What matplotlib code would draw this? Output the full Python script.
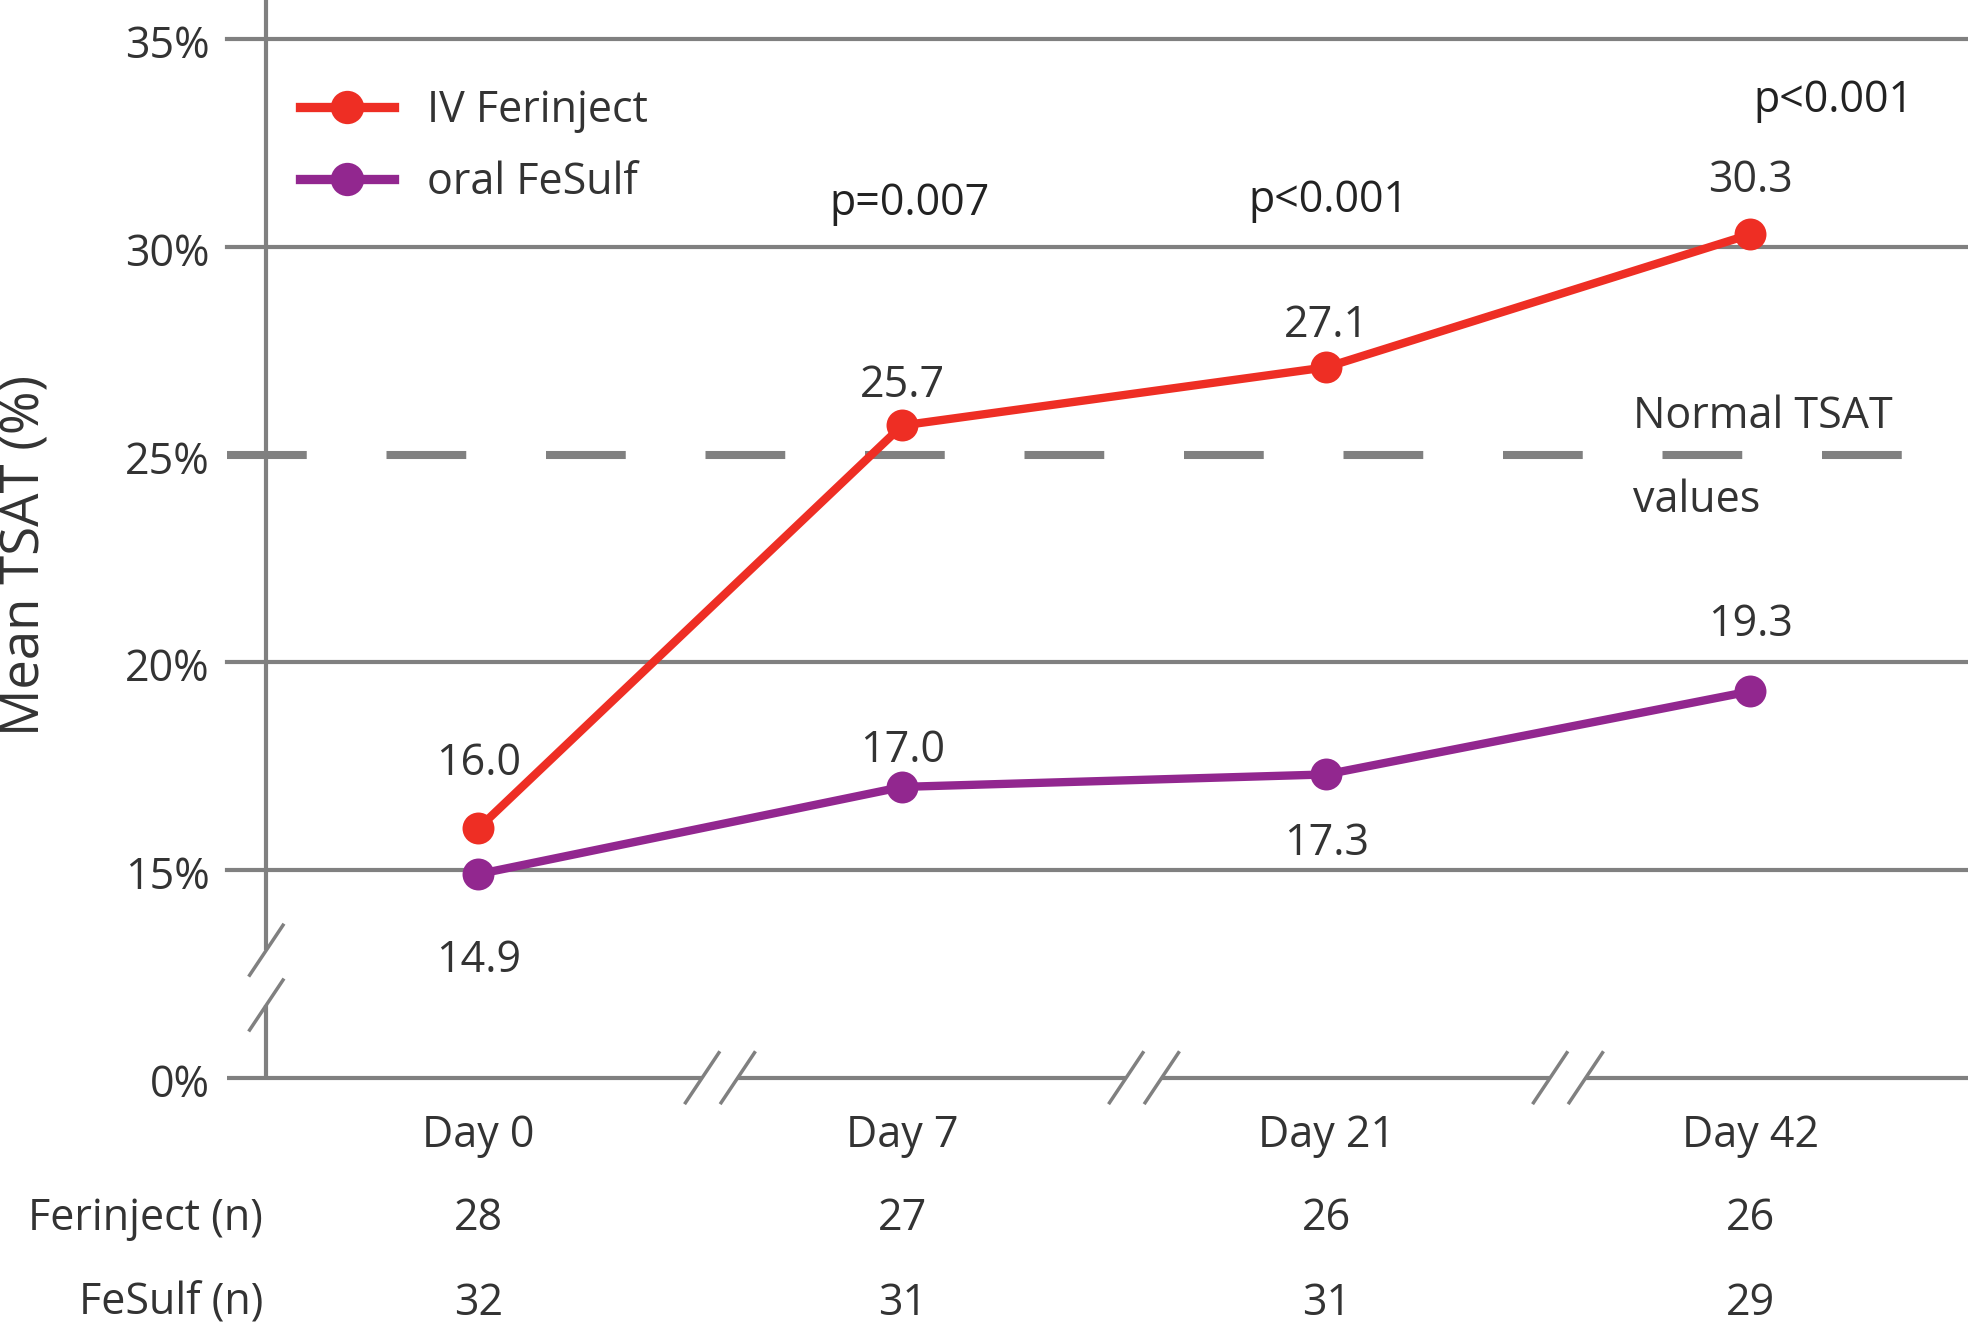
import numpy as np
import matplotlib
matplotlib.use('Agg')
import matplotlib.pyplot as plt
from matplotlib.lines import Line2D

plt.rcParams['font.family'] = ['Open Sans', 'DejaVu Sans']

# ========== DATA ==========

days = ["Day 0", "Day 7", "Day 21", "Day 42"]
ferinject = [16.0, 25.7, 27.1, 30.3]
fesulf = [14.9, 17.0, 17.3, 19.3]
ferinject_n = [28, 27, 26, 26]
fesulf_n = [32, 31, 31, 29]
p_values = ["p=0.007", "p<0.001", "p<0.001"]
y_ticks = [0, 15, 20, 25, 30, 35]
normal_tsat = 25

# ========== STYLE ==========

RED = '#EE2E24'
PURPLE = '#92278F'
GRAY = '#808080'
TXT = '#333333'
FS = 31

# 0% sits one grid step below 15% (broken axis)
def ymap(v):
    return 10.0 if v == 0 else v

# px -> data units (axes fill the whole figure)
SX = 424.0
SY = 41.55

fig = plt.figure(figsize=(19.68, 13.27), dpi=100)
ax = fig.add_axes([0, 0, 1, 1])
ax.set_xlim(-1.1281, 3.5134)
ax.set_ylim(4.0, 35.94)
ax.axis('off')

x = np.arange(len(days))
x_left = -0.593
x_axis = -0.5
x_right = 3.52

# ========== GRID / AXES ==========

for t in y_ticks:
    yv = ymap(t)
    if t == normal_tsat:
        ax.plot([x_left, 3.372], [yv, yv], color=GRAY, lw=5.8,
                dashes=(9.9, 9.9), solid_capstyle='butt', dash_capstyle='butt', zorder=1)
    elif t != 0:
        ax.plot([x_left, x_right], [yv, yv], color=GRAY, lw=3, zorder=1)
    ax.text(-0.633, yv - 0.46, f"{t}%", ha='right', va='baseline',
            fontsize=FS, color=TXT)

# x axis (0% line) with breaks
breaks = [0.57 + i for i in range(len(days) - 1)]
half_gap = 17.8 / SX
segs = [x_left] + [b for bx in breaks for b in (bx - half_gap, bx + half_gap)] + [x_right]
for a, b in zip(segs[::2], segs[1::2]):
    ax.plot([a, b], [10, 10], color=GRAY, lw=3, solid_capstyle='butt', zorder=1)
sdx, sdy = 16.7 / SX, 25.0 / SY
for bx in breaks:
    for c in (bx - half_gap, bx + half_gap):
        ax.plot([c - sdx, c + sdx], [10 - sdy, 10 + sdy], color=GRAY, lw=2.5, zorder=1)

# y axis with break
yb_top, yb_bot = 13.07, 11.75
ax.plot([x_axis, x_axis], [yb_top, 36], color=GRAY, lw=3, solid_capstyle='butt', zorder=1)
ax.plot([x_axis, x_axis], [10, yb_bot], color=GRAY, lw=3, solid_capstyle='butt', zorder=1)
for c in (yb_top, yb_bot):
    ax.plot([x_axis - sdx, x_axis + sdx], [c - sdy, c + sdy], color=GRAY, lw=2.5, zorder=1)

# ========== SERIES ==========

ax.plot(x, ferinject, color=RED, lw=6, marker='o', ms=23, mew=0, zorder=3)
ax.plot(x, fesulf, color=PURPLE, lw=6, marker='o', ms=23, mew=0, zorder=3)

# label baseline offsets in points (above > 0, below < 0)
red_off = [38.7, 20.7, 21.9, 30.7]
pur_off = [-70.2, 17.7, -58.2, 40.2]
for xi, v, o in zip(x, ferinject, red_off):
    ax.annotate(f"{v:.1f}", (xi, v), xytext=(0, o), textcoords='offset points',
                ha='center', va='baseline', fontsize=FS, color=TXT, zorder=4)
for xi, v, o in zip(x, fesulf, pur_off):
    ax.annotate(f"{v:.1f}", (xi, v), xytext=(0, o), textcoords='offset points',
                ha='center', va='baseline', fontsize=FS, color=TXT, zorder=4)

# p-values
p_pos = [(1.018, 30.76), (2.004, 30.83), (3.195, 33.25)]
for txt, (px, py) in zip(p_values, p_pos):
    ax.text(px, py, txt, ha='center', va='baseline', fontsize=FS, color='#222222')

ax.text(2.723, 25.63, "Normal TSAT", ha='left', va='baseline', fontsize=FS, color=TXT)
ax.text(2.723, 23.62, "values", ha='left', va='baseline', fontsize=FS, color=TXT)

# ========== CATEGORY LABELS / TABLE ==========

row_day, row_fer, row_sulf = 8.333, 6.336, 4.3
for xi, d, nf, ns in zip(x, days, ferinject_n, fesulf_n):
    ax.text(xi, row_day, d, ha='center', va='baseline', fontsize=FS, color=TXT)
    ax.text(xi, row_fer, str(nf), ha='center', va='baseline', fontsize=FS, color=TXT)
    ax.text(xi, row_sulf, str(ns), ha='center', va='baseline', fontsize=FS, color=TXT)
ax.text(-0.508, row_fer, "Ferinject (n)", ha='right', va='baseline', fontsize=FS, color=TXT)
ax.text(-0.508, row_sulf, "FeSulf (n)", ha='right', va='baseline', fontsize=FS, color=TXT)

ax.text(-1.067, 22.58, "Mean TSAT (%)", rotation=90, ha='center', va='center',
        fontsize=38, color=TXT)

# ========== LEGEND ==========

handles = [Line2D([], [], color=RED, lw=6.7, marker='o', ms=24, mew=0),
           Line2D([], [], color=PURPLE, lw=6.7, marker='o', ms=24, mew=0)]
ax.legend(handles, ["IV Ferinject", "oral FeSulf"], loc='upper left',
          bbox_to_anchor=(0.1524, 0.933), frameon=False, fontsize=FS,
          handlelength=2.18, handletextpad=0.78, labelspacing=0.62,
          borderpad=0, borderaxespad=0, labelcolor=TXT)

fig.savefig('out.png', dpi=100)
